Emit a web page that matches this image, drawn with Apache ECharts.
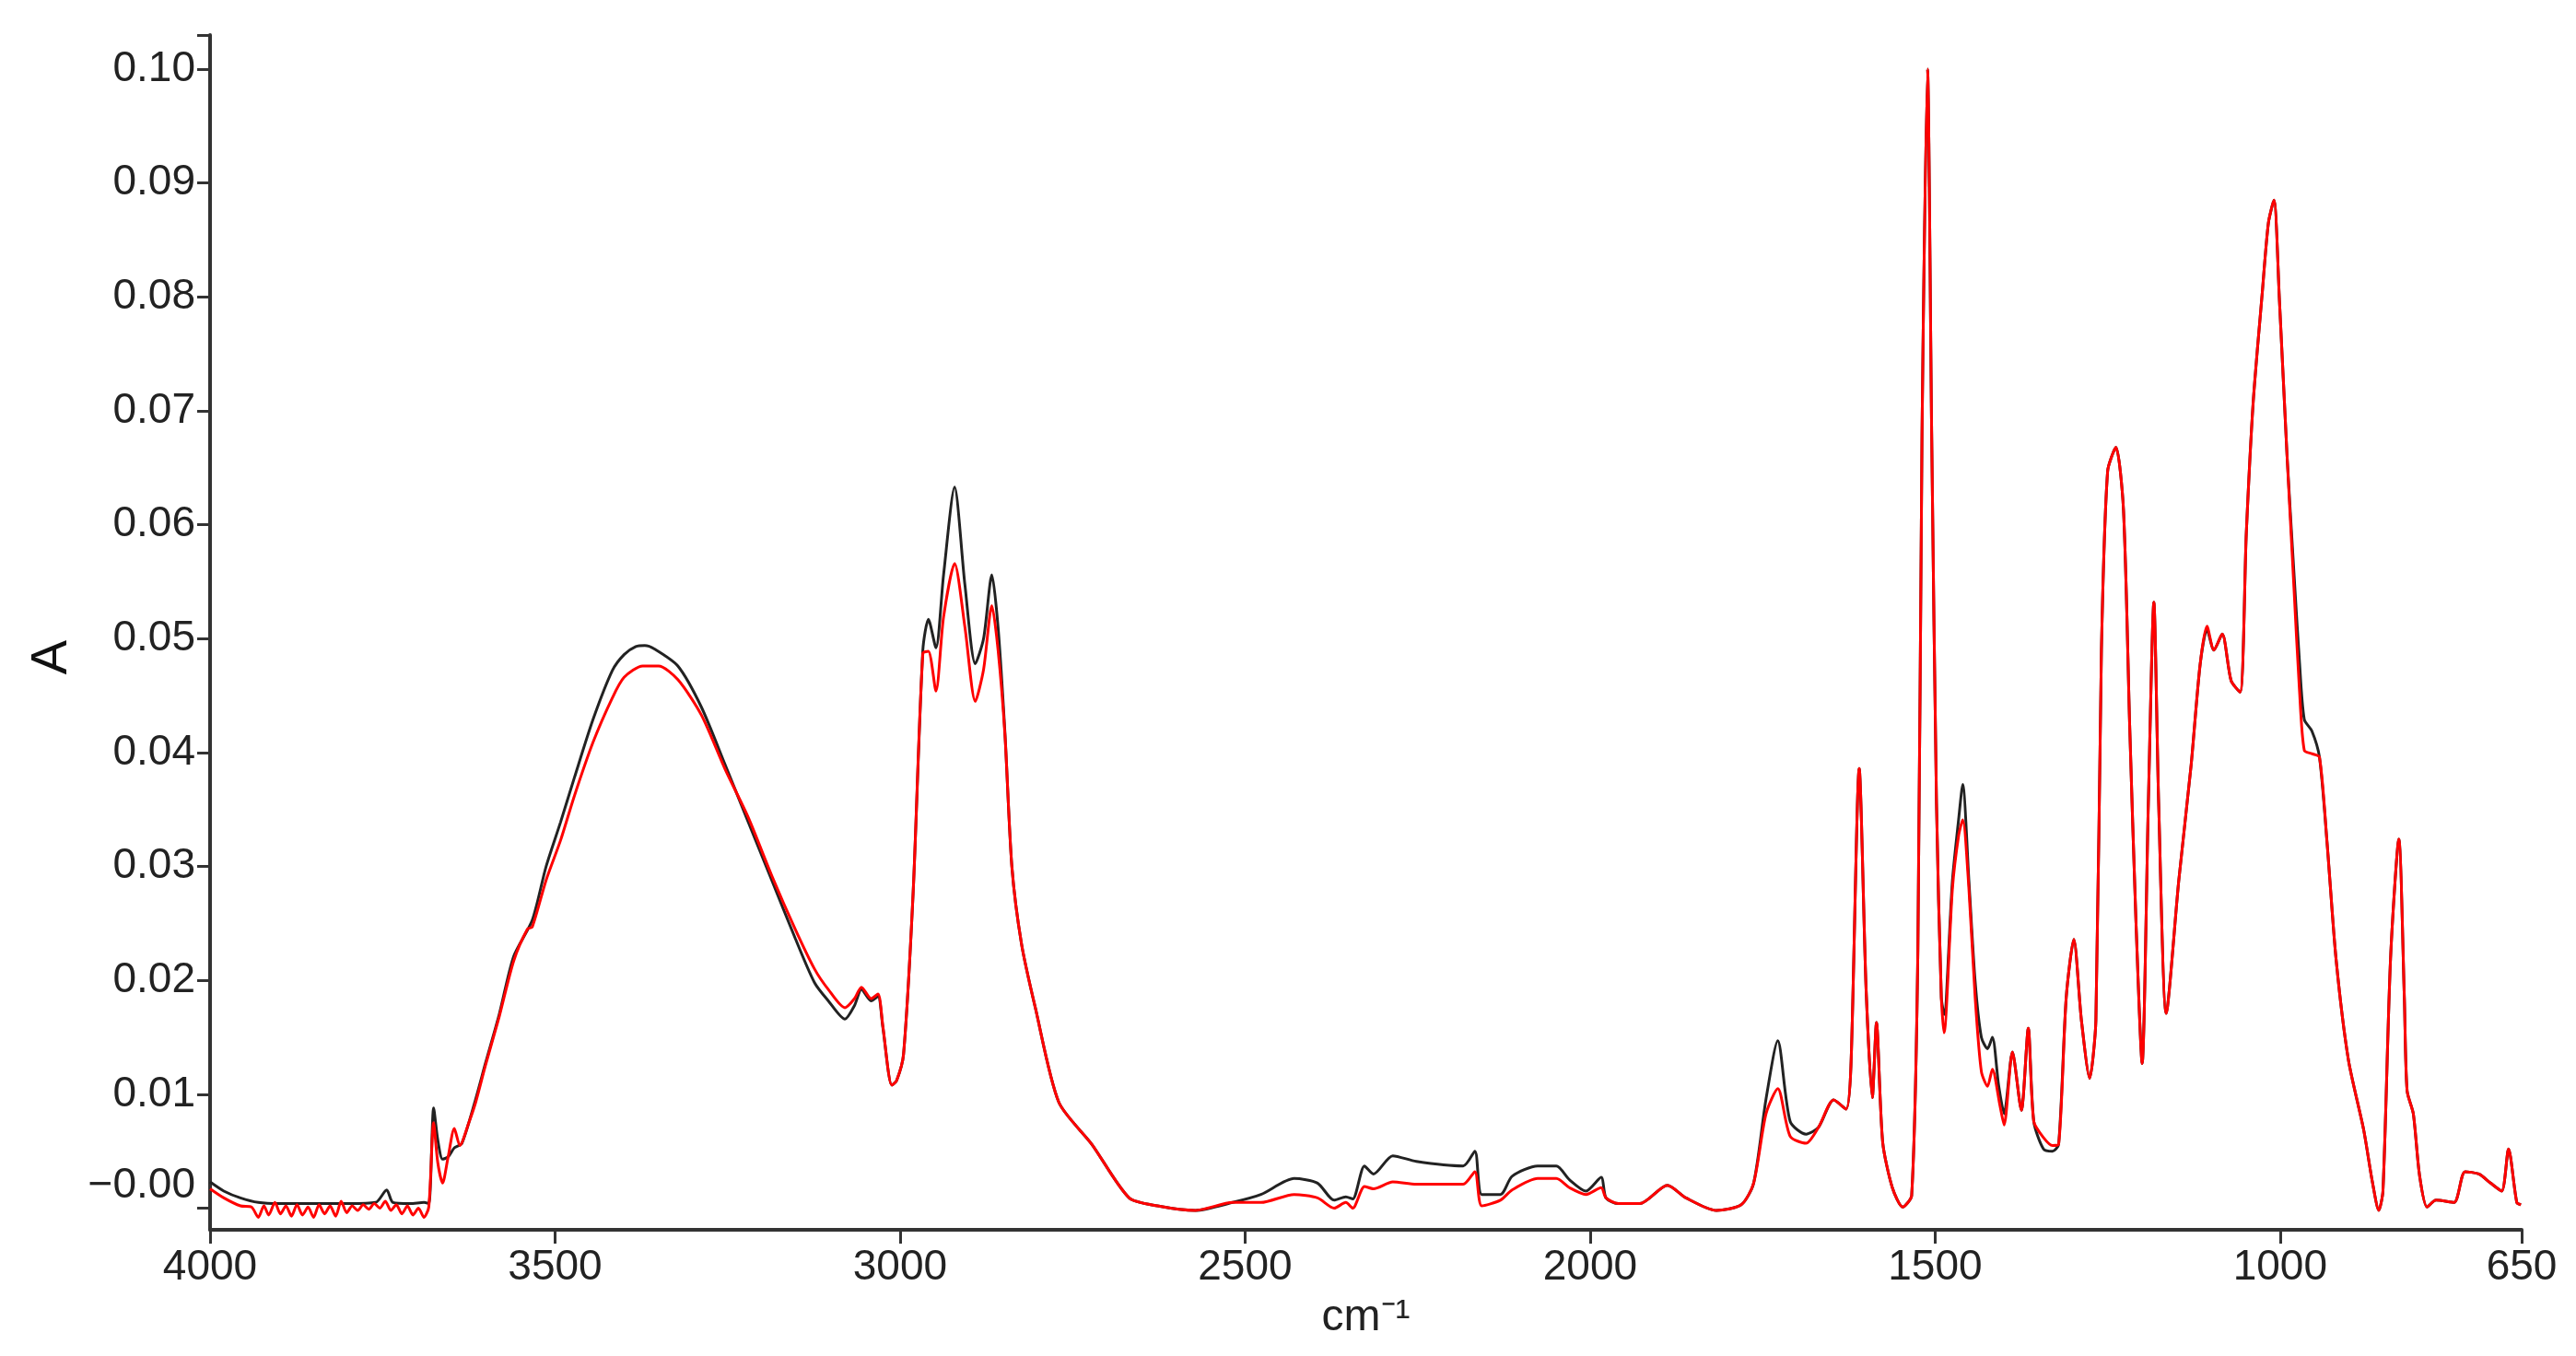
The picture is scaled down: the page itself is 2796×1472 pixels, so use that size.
<!DOCTYPE html>
<html>
<head>
<meta charset="utf-8">
<script src="https://cdn.jsdelivr.net/npm/echarts@6.0.0/dist/echarts.min.js"></script>
<style>
html,body{margin:0;padding:0;background:#fff;}
#chart{width:2796px;height:1472px;}
</style>
</head>
<body>
<div id="chart"></div>
<script>
// Wavenumbers (cm-1) and absorbance for the black spectrum
var blackWn = [4000,3980,3956,3930,3900,3850,3800,3760,3744,3735,3710,3690,3683,3676,3670,3663,3655,3646,3635,3615,3601,3581,3560,3533,3513,3492,3472,3445,3417,3400,3383,3370,3356,3322,3288,3254,3220,3186,3152,3124,3104,3080,3066,3056,3042,3032,3025,3012,3005,2995,2981,2967,2959,2948,2937,2921,2906,2891,2879,2867,2858,2848,2838,2824,2804,2770,2722,2668,2627,2572,2518,2477,2429,2395,2371,2354,2344,2327,2314,2286,2252,2184,2167,2157,2130,2113,2076,2049,2030,2006,1984,1977,1959,1928,1888,1861,1817,1781,1763,1745,1728,1710,1687,1669,1647,1629,1622,1610,1600,1591,1585,1576,1562,1547,1534,1525,1519,1511,1505,1498,1491,1487,1475,1466,1460,1451,1442,1433,1424,1417,1408,1400,1388,1375,1365,1357,1343,1330,1321,1310,1299,1288,1276,1267,1259,1250,1238,1227,1218,1209,1200,1191,1183,1176,1165,1147,1129,1116,1106,1096,1084,1071,1058,1049,1039,1026,1017,1009,1001,990,980,972,965,954,943,932,919,901,879,866,857,851,840,828,820,816,807,798,787,774,748,732,712,695,679,669,657,651];
var blackA = [0.0023,0.0015,0.0009,0.0005,0.0004,0.0004,0.0004,0.0005,0.0016,0.0005,0.0004,0.0005,0.0004,0.0088,0.0060,0.0043,0.0045,0.0053,0.0057,0.0096,0.0127,0.0170,0.0221,0.0253,0.0300,0.0339,0.0378,0.0429,0.0472,0.0486,0.0493,0.0494,0.0491,0.0476,0.0440,0.0390,0.0339,0.0288,0.0237,0.0198,0.0182,0.0166,0.0178,0.0192,0.0182,0.0186,0.0159,0.0108,0.0112,0.0135,0.0278,0.0490,0.0517,0.0492,0.0556,0.0633,0.0547,0.0478,0.0500,0.0556,0.0510,0.0417,0.0300,0.0232,0.0176,0.0093,0.0056,0.0009,0.0002,-0.0002,0.0005,0.0012,0.0026,0.0022,0.0007,0.0010,0.0008,0.0037,0.0030,0.0046,0.0041,0.0037,0.0050,0.0012,0.0012,0.0028,0.0037,0.0037,0.0025,0.0015,0.0027,0.0009,0.0004,0.0004,0.0020,0.0009,-0.0002,0.0003,0.0022,0.0096,0.0147,0.0076,0.0065,0.0071,0.0095,0.0087,0.0125,0.0386,0.0192,0.0097,0.0163,0.0058,0.0018,0.0001,0.0011,0.0226,0.0680,0.1000,0.0680,0.0355,0.0185,0.0170,0.0287,0.0341,0.0372,0.0287,0.0199,0.0150,0.0140,0.0150,0.0108,0.0083,0.0137,0.0086,0.0158,0.0076,0.0052,0.0050,0.0056,0.0185,0.0236,0.0165,0.0114,0.0165,0.0490,0.0647,0.0668,0.0613,0.0423,0.0253,0.0127,0.0355,0.0532,0.0355,0.0171,0.0287,0.0389,0.0477,0.0508,0.0490,0.0504,0.0463,0.0453,0.0593,0.0708,0.0803,0.0865,0.0885,0.0797,0.0661,0.0558,0.0480,0.0429,0.0419,0.0396,0.0321,0.0219,0.0130,0.0069,0.0022,-0.0002,0.0015,0.0219,0.0324,0.0185,0.0103,0.0083,0.0029,0.0001,0.0007,0.0005,0.0032,0.0030,0.0022,0.0015,0.0052,0.0005,0.0003];

// Wavenumbers (cm-1) and absorbance for the red spectrum
var redWn = [4000,3980,3956,3940,3930,3922,3915,3906,3898,3890,3882,3874,3866,3858,3850,3842,3834,3826,3818,3810,3802,3794,3786,3778,3770,3762,3754,3746,3738,3730,3722,3714,3706,3698,3690,3683,3676,3670,3663,3655,3646,3638,3625,3615,3601,3581,3560,3540,3533,3513,3492,3472,3445,3417,3400,3373,3350,3322,3288,3254,3220,3186,3152,3124,3104,3080,3066,3056,3042,3032,3025,3012,3005,2995,2981,2967,2959,2948,2937,2921,2906,2891,2879,2867,2858,2848,2838,2824,2804,2770,2722,2668,2627,2572,2518,2477,2429,2395,2371,2354,2344,2327,2314,2286,2252,2184,2167,2157,2130,2113,2076,2049,2030,2006,1984,1977,1959,1928,1888,1861,1817,1781,1763,1745,1728,1710,1687,1669,1647,1629,1622,1610,1600,1591,1585,1576,1562,1547,1534,1525,1519,1511,1505,1498,1491,1487,1475,1466,1460,1451,1442,1433,1424,1417,1406,1400,1388,1375,1365,1357,1343,1330,1321,1310,1299,1288,1276,1267,1259,1250,1238,1227,1218,1209,1200,1191,1183,1176,1165,1147,1129,1116,1106,1096,1084,1071,1058,1049,1039,1026,1017,1009,1001,990,980,972,965,954,943,932,919,901,879,866,857,851,840,828,820,816,807,798,787,774,748,732,712,695,679,669,657,651];
var redA = [0.0017,0.0009,0.0002,0.0001,-0.0008,0.0002,-0.0006,0.0005,-0.0005,0.0002,-0.0007,0.0003,-0.0006,0.0001,-0.0008,0.0003,-0.0005,0.0002,-0.0007,0.0006,-0.0004,0.0002,-0.0002,0.0003,-0.0001,0.0004,0.0000,0.0006,-0.0002,0.0003,-0.0005,0.0002,-0.0006,0.0000,-0.0008,0.0001,0.0075,0.0040,0.0022,0.0045,0.0070,0.0055,0.0075,0.0093,0.0125,0.0168,0.0217,0.0245,0.0247,0.0288,0.0323,0.0362,0.0409,0.0448,0.0466,0.0476,0.0476,0.0464,0.0433,0.0386,0.0343,0.0292,0.0245,0.0210,0.0192,0.0176,0.0184,0.0194,0.0184,0.0188,0.0160,0.0108,0.0112,0.0135,0.0278,0.0487,0.0489,0.0454,0.0519,0.0566,0.0510,0.0445,0.0473,0.0529,0.0490,0.0415,0.0300,0.0232,0.0176,0.0093,0.0056,0.0009,0.0002,-0.0002,0.0005,0.0005,0.0012,0.0009,0.0000,0.0005,0.0000,0.0019,0.0017,0.0023,0.0021,0.0021,0.0032,0.0002,0.0007,0.0016,0.0026,0.0026,0.0018,0.0012,0.0018,0.0009,0.0004,0.0004,0.0020,0.0009,-0.0002,0.0003,0.0022,0.0083,0.0105,0.0063,0.0057,0.0071,0.0095,0.0087,0.0125,0.0386,0.0192,0.0097,0.0163,0.0058,0.0018,0.0001,0.0011,0.0226,0.0680,0.1000,0.0680,0.0355,0.0185,0.0154,0.0280,0.0327,0.0341,0.0280,0.0185,0.0120,0.0107,0.0122,0.0090,0.0073,0.0137,0.0086,0.0158,0.0076,0.0062,0.0055,0.0056,0.0185,0.0236,0.0165,0.0114,0.0165,0.0490,0.0647,0.0668,0.0613,0.0423,0.0253,0.0127,0.0355,0.0532,0.0355,0.0171,0.0287,0.0389,0.0477,0.0511,0.0490,0.0504,0.0463,0.0453,0.0593,0.0708,0.0803,0.0865,0.0885,0.0797,0.0661,0.0545,0.0455,0.0402,0.0399,0.0396,0.0321,0.0219,0.0130,0.0069,0.0022,-0.0002,0.0015,0.0219,0.0324,0.0185,0.0103,0.0083,0.0029,0.0001,0.0007,0.0005,0.0032,0.0030,0.0022,0.0015,0.0052,0.0005,0.0003];

// Tick labels
var xTicks = [650,1000,1500,2000,2500,3000,3500,4000];
var yTicks = [0,0.01,0.02,0.03,0.04,0.05,0.06,0.07,0.08,0.09,0.10];
var yTickLabels = ['\u22120.00','0.01','0.02','0.03','0.04','0.05','0.06','0.07','0.08','0.09','0.10'];

function pairs(xs, ys){ var out=[]; for(var i=0;i<xs.length;i++){ out.push([xs[i], ys[i]]); } return out; }

var FONT = "'Liberation Sans', Arial, sans-serif";
var chart = echarts.init(document.getElementById('chart'), null, {renderer:'canvas'});
chart.setOption({
  animation:false,
  backgroundColor:'#ffffff',
  grid:{left:228, right:59, top:38, bottom:137, containLabel:false},
  xAxis:{
    type:'value', inverse:true, min:650, max:4000,
    name:'cm\u207B\u00B9', nameLocation:'middle', nameGap:72,
    nameTextStyle:{fontFamily:FONT, fontSize:48, color:'#222'},
    axisLine:{show:true, onZero:false, lineStyle:{color:'#333', width:4}},
    axisTick:{show:true, inside:false, length:15, lineStyle:{color:'#333', width:3}, customValues:xTicks},
    axisLabel:{fontFamily:FONT, fontSize:46, color:'#222', margin:18, customValues:xTicks, formatter:function(v){return String(v);}},
    splitLine:{show:false}
  },
  yAxis:{
    type:'value', min:-0.0019, max:0.103,
    name:'A', nameLocation:'middle', nameGap:141, nameRotate:90,
    nameTextStyle:{fontFamily:FONT, fontSize:56, color:'#111', padding:[0,54,0,0]},
    axisLine:{show:true, onZero:false, lineStyle:{color:'#333', width:4}},
    axisTick:{show:true, length:14, lineStyle:{color:'#333', width:3}, customValues:yTicks.concat([0.103])},
    axisLabel:{fontFamily:FONT, fontSize:46, color:'#222', margin:16, customValues:yTicks,
      rich:{z:{fontFamily:FONT, fontSize:46, color:'#222', padding:[0,0,48,0]}},
      formatter:function(v){
        for(var i=0;i<yTicks.length;i++){
          if(Math.abs(yTicks[i]-v)<1e-9){ return i===0 ? '{z|'+yTickLabels[i]+'}' : yTickLabels[i]; }
        }
        return '';
      }},
    splitLine:{show:false}
  },
  series:[
    {type:'line', name:'black', data:pairs(blackWn, blackA), showSymbol:false, smooth:0.25,
     lineStyle:{color:'#222', width:3}, z:2},
    {type:'line', name:'red', data:pairs(redWn, redA), showSymbol:false, smooth:0.25,
     lineStyle:{color:'#ff0000', width:3}, z:3}
  ]
});
</script>
</body>
</html>
